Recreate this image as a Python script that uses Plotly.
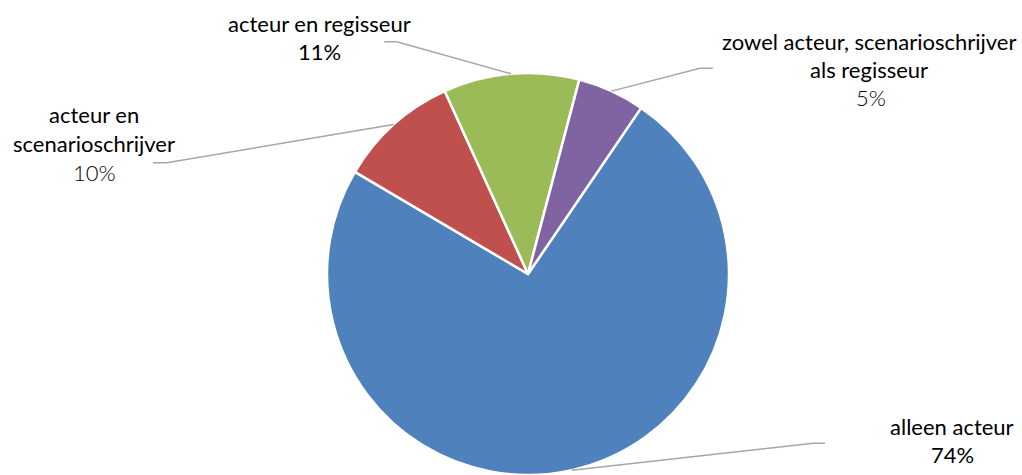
import math
import plotly.graph_objects as go

# ---- data ----
categories = ["alleen acteur", "acteur en scenarioschrijver", "acteur en regisseur",
              "zowel acteur, scenarioschrijver als regisseur"]
values = [73.9, 9.7, 10.9, 5.4]
colors = ["#4F81BD", "#C0504D", "#9BBB59", "#8064A2"]
label_lines = [["alleen acteur"], ["acteur en", "scenarioschrijver"],
               ["acteur en regisseur"], ["zowel acteur, scenarioschrijver", "als regisseur"]]

W, H = 1022, 475
ROT = 34.25
CX, R = 528, 201
CY = H - R

def px(x):
    return x / W

def py(y):
    return (H - y) / H

fig = go.Figure(go.Pie(
    labels=categories, values=values, sort=False, direction="clockwise",
    rotation=ROT, textinfo="none", showlegend=False,
    marker=dict(colors=colors, line=dict(color="white", width=2.5)),
    domain=dict(x=[px(CX - R), px(CX + R)], y=[0, 2 * R / H]),
))

total = sum(values)
cum = 0
mid_angles = []
for v in values:
    mid_angles.append(ROT + (cum + v / 2) / total * 360)
    cum += v
pct = [f"{round(v / total * 100)}%" for v in values]

# label layout: (center x, first line y, line step, light percent?), leader (end x, elbow x, y)
label_pos = [(952, 426, 28, False), (94, 114, 29, True), (319, 24, 28, False), (869, 41, 28.3, True)]
leaders = [(825, 813.3, 443.3), (153, 166.7, 162.7), (384.3, 396.7, 41.7), (712.7, 700, 68.3)]

annotations = []
shapes = []
FONT = "Lato"
for i in range(len(values)):
    x0, y0, step, light = label_pos[i]
    lines = label_lines[i] + [pct[i]]
    for j, t in enumerate(lines):
        is_pct = j == len(lines) - 1
        f = dict(family=FONT, size=22, color="#000000", weight=400)
        if is_pct and light:
            f["weight"] = 300
        xc = x0 + (2 if (is_pct and light and i == 3) else 0)
        annotations.append(dict(x=px(xc), y=py(y0 + j * step), xref="paper", yref="paper",
                                text=t, showarrow=False, xanchor="center", yanchor="middle",
                                font=f))
    a = math.radians(mid_angles[i])
    rx = CX + R * math.sin(a)
    ry = CY - R * math.cos(a)
    ex, bx, ly = leaders[i]
    path = f"M {px(ex)},{py(ly)} L {px(bx)},{py(ly)} L {px(rx)},{py(ry)}"
    shapes.append(dict(type="path", path=path, xref="paper", yref="paper",
                       line=dict(color="#A6A6A6", width=1.5)))

fig.update_layout(width=W, height=H, margin=dict(l=0, r=0, t=0, b=0),
                  paper_bgcolor="white", plot_bgcolor="white",
                  annotations=annotations, shapes=shapes)
fig.write_html("out.html", config={"displayModeBar": False},
               post_script="document.body.style.margin='0';document.body.style.overflow='hidden';")
